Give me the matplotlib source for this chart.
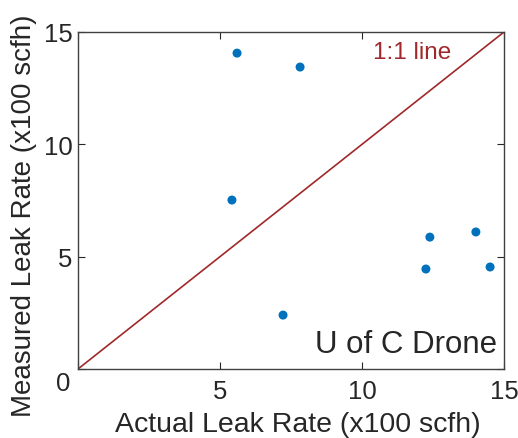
import matplotlib
matplotlib.use("Agg")
import matplotlib.pyplot as plt

plt.rcParams['font.family'] = ['Liberation Sans', 'DejaVu Sans']

actual = [5.6, 7.82, 5.42, 7.22, 12.39, 14.01, 12.25, 14.51]
measured = [14.06, 13.44, 7.52, 2.40, 5.87, 6.10, 4.45, 4.54]
ticks = [0, 5, 10, 15]
xtick_labels = ['', '5', '10', '15']
ytick_labels = ['', '5', '10', '15']
line_x = [0, 15]
line_y = [0, 15]

fig = plt.figure(figsize=(5.18, 4.39), dpi=100)
ax = fig.add_axes([78/518, 1-370/439, (504-78)/518, (370-33)/439])
txtc = '#262626'
linec = '#A0282A'
ax.plot(line_x, line_y, color=linec, lw=1.2)
ax.scatter(actual, measured, s=42, color='#0072BD', zorder=3, edgecolors='none')
ax.set_xlim(0, 15)
ax.set_ylim(0, 15)
ax.set_xticks(ticks)
ax.set_yticks(ticks)
ax.set_xticklabels(xtick_labels)
ax.set_yticklabels(ytick_labels)
ax.tick_params(direction='in', top=True, right=True, labelsize=18.5, colors=txtc, length=5, width=0.8)
ax.tick_params(axis='x', pad=7)
ax.tick_params(axis='y', pad=4)
for s in ax.spines.values():
    s.set_color('#404040')
    s.set_linewidth(1.0)
ax.text(-0.035, -0.042, '0', transform=ax.transAxes, ha='center', va='center', fontsize=18.5, color=txtc)
ax.set_xlabel('Actual Leak Rate (x100 scfh)', fontsize=20.5, color=txtc, va='center')
ax.xaxis.set_label_coords(0.515, -0.163)
ax.set_ylabel('Measured Leak Rate (x100 scfh)', fontsize=20, color=txtc, va='center')
ax.yaxis.set_label_coords(-0.127, 0.457)
ax.text(10.4, 14.1, '1:1 line', color=linec, fontsize=17.5, va='center', ha='left')
ax.text(0.985, 0.03, 'U of C Drone', transform=ax.transAxes, ha='right', va='bottom', fontsize=22.5, color=txtc)
fig.savefig('out.png', dpi=100)
